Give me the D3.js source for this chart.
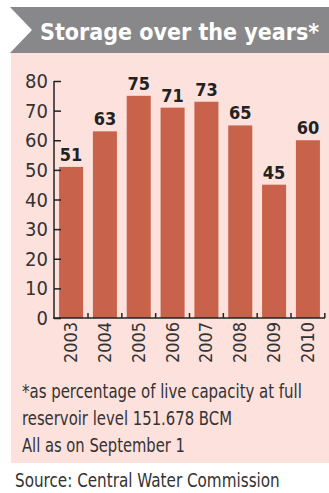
<!DOCTYPE html>
<html>
<head>
<meta charset="utf-8">
<script src="https://cdn.jsdelivr.net/npm/d3@7"></script>
<style>
  body { margin: 0; background: #fff; }
  svg { display: block; }
  text { font-stretch: condensed; }
</style>
</head>
<body>
<script>
var years = ["2003", "2004", "2005", "2006", "2007", "2008", "2009", "2010"];
var storage = [51, 63, 75, 71, 73, 65, 45, 60];
var yTicks = [0, 10, 20, 30, 40, 50, 60, 70, 80];
var notes = ["*as percentage of live capacity at full", "reservoir level 151.678 BCM", "All as on September 1"];
var noteWidths = [280, 210, 163];
var source = "Source: Central Water Commission";
var title = "Storage over the years*";

var svgWidth = 329;
var svgHeight = 493;
var condFont = "'DejaVu Sans Condensed', 'DejaVu Sans', sans-serif";

var svg = d3.select("body")
  .append("svg")
  .attr("width", svgWidth)
  .attr("height", svgHeight);

// squeeze a text horizontally to a target width, keeping its left edge
function fitWidth(sel, x0, y0, w) {
  sel.each(function () {
    var natural = this.getComputedTextLength();
    var s = Math.min(1, w / natural);
    d3.select(this).attr("transform", `translate(${x0}, ${y0}) scale(${s}, 1)`);
  });
}

// pink panel
svg.append("rect")
  .attr("x", 11).attr("y", 53)
  .attr("width", svgWidth - 11).attr("height", 410)
  .attr("fill", "#fde1dc");

// grey header band with white notch on the left
svg.append("path")
  .attr("d", "M10,7 L329,7 L329,53 L10,53 L32,30 Z")
  .attr("fill", "#88888a");

svg.append("text")
  .attr("fill", "#fff")
  .attr("font-family", "'DejaVu Sans', sans-serif")
  .attr("font-weight", "bold")
  .attr("font-size", "23px")
  .text(title)
  .call(fitWidth, 40, 40, 287);

// scales
var x = d3.scaleBand()
  .domain(years)
  .range([54, 325])
  .paddingInner(0.29)
  .paddingOuter(0.15);

var y = d3.scaleLinear()
  .domain([0, 80])
  .range([318, 81]);

// bars
svg.selectAll(".bar")
  .data(storage)
  .enter()
  .append("rect")
  .attr("class", "bar")
  .attr("x", (d, i) => x(years[i]))
  .attr("y", d => y(d))
  .attr("width", x.bandwidth())
  .attr("height", d => y(0) - y(d))
  .attr("fill", "#c9624a");

// value labels
svg.selectAll(".val")
  .data(storage)
  .enter()
  .append("text")
  .attr("class", "val")
  .attr("x", (d, i) => x(years[i]) + x.bandwidth() / 2)
  .attr("y", d => y(d) - 6)
  .attr("text-anchor", "middle")
  .attr("font-family", condFont)
  .attr("font-weight", "bold")
  .attr("font-size", "18px")
  .attr("fill", "#222")
  .text(d => d);

// y axis, ticks pointing inward
var leftAxis = d3.axisRight(y)
  .tickValues(yTicks)
  .tickSize(7)
  .tickFormat("");

var yAxisG = svg.append("g")
  .attr("transform", "translate(54,0)")
  .call(leftAxis);
yAxisG.select(".domain").attr("stroke", "#222").attr("stroke-width", 1.5).attr("d", "M0,81V318");
yAxisG.selectAll(".tick line").attr("stroke", "#222").attr("stroke-width", 1.5);

svg.selectAll(".ylab")
  .data(yTicks)
  .enter()
  .append("text")
  .attr("class", "ylab")
  .attr("x", 48)
  .attr("y", d => y(d) + 7)
  .attr("text-anchor", "end")
  .attr("font-family", condFont)
  .attr("font-size", "20px")
  .attr("fill", "#333")
  .text(d => d);

// x axis line and separators between bars
svg.append("line")
  .attr("x1", 53).attr("x2", 325)
  .attr("y1", y(0)).attr("y2", y(0))
  .attr("stroke", "#222").attr("stroke-width", 1.5);

var step = x.step();
svg.selectAll(".xtick")
  .data(years)
  .enter()
  .append("line")
  .attr("class", "xtick")
  .attr("x1", d => x(d) + x.bandwidth() + (step - x.bandwidth()) / 2)
  .attr("x2", d => x(d) + x.bandwidth() + (step - x.bandwidth()) / 2)
  .attr("y1", y(0)).attr("y2", y(0) - 5)
  .attr("stroke", "#222").attr("stroke-width", 1.5);

// year labels, rotated
svg.selectAll(".year")
  .data(years)
  .enter()
  .append("text")
  .attr("class", "year")
  .attr("transform", d => `translate(${x(d) + x.bandwidth() / 2 + 6}, 322) rotate(-90)`)
  .attr("text-anchor", "end")
  .attr("font-family", condFont)
  .attr("font-size", "18px")
  .attr("textLength", 41)
  .attr("lengthAdjust", "spacingAndGlyphs")
  .attr("fill", "#333")
  .text(d => d);

// footnotes
svg.selectAll(".note")
  .data(notes)
  .enter()
  .append("text")
  .attr("class", "note")
  .attr("font-family", condFont)
  .attr("font-size", "19px")
  .attr("fill", "#333")
  .text(d => d)
  .each(function (d, i) {
    d3.select(this).call(fitWidth, 22, 398 + i * 27, noteWidths[i]);
  });

svg.append("text")
  .attr("font-family", condFont)
  .attr("font-size", "19px")
  .attr("fill", "#333")
  .text(source)
  .call(fitWidth, 15, 487, 265);
</script>
</body>
</html>
